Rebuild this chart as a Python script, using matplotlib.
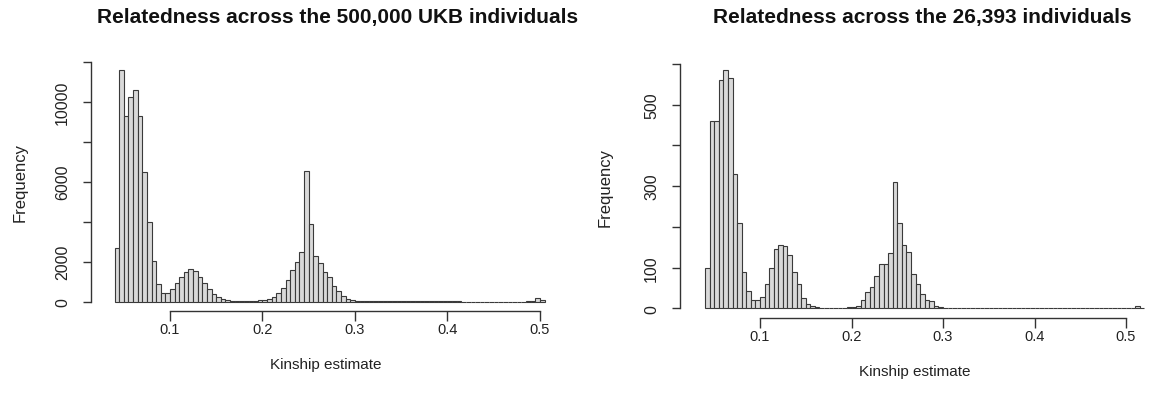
import numpy as np
import matplotlib.pyplot as plt

plt.rcParams['font.family'] = ['Liberation Sans', 'DejaVu Sans']

# bins of width 0.005 starting at 0.04
bin_start = 0.04
bin_width = 0.005

# UKB 500,000 individuals
ukb_counts = [2700, 11600, 9300, 10250, 10600, 9300, 6500, 4000, 2050, 885,
              450, 420, 650, 950, 1250, 1500, 1620, 1550, 1250, 950,
              620, 380, 220, 135, 80, 55, 45, 40, 40, 45,
              50, 75, 110, 160, 250, 450, 700, 1100, 1600, 2000,
              2500, 6550, 3900, 2300, 1935, 1500, 1220, 800, 550, 300,
              150, 90, 60,
              50, 45, 40, 35, 32, 30, 28, 26, 24, 22,
              20, 19, 18, 17, 16, 15, 14, 13, 12, 12,
              11, 11, 10, 10, 10, 9, 9, 9, 8, 8,
              8, 8, 7, 7, 8, 9, 12, 20,
              200, 80]

# 26,393 individuals
sub_counts = [100, 460, 460, 560, 585, 566, 331, 210, 89, 43,
              21, 21, 27, 60, 100, 146, 156, 152, 130, 90,
              60, 26, 11, 5, 3, 2, 1, 1, 1, 1,
              2, 3, 3, 5, 20, 40, 52, 80, 109, 109,
              136, 310, 210, 156, 139, 84, 60, 35, 20, 18,
              5, 3, 2,
              1, 1, 1, 1, 1, 0, 1, 0, 1, 0,
              0, 1, 0, 0, 0, 1, 0, 0, 0, 0,
              0, 0, 0, 1, 0, 0, 0, 0, 0, 0,
              0, 0, 0, 0, 0, 0, 0, 0, 1, 2, 1, 5, 2]

titles = ["Relatedness across the 500,000 UKB individuals",
          "Relatedness across the 26,393 individuals"]
x_ticks = [0.1, 0.2, 0.3, 0.4, 0.5]
ukb_yticks = [0, 2000, 4000, 6000, 8000, 10000, 12000]
ukb_ylabels = ["0", "2000", "", "6000", "", "10000", ""]
sub_yticks = [0, 100, 200, 300, 400, 500, 600]
sub_ylabels = ["0", "100", "", "300", "", "500", ""]

W, H = 1161, 410
fig = plt.figure(figsize=(W / 100, H / 100), dpi=100)

axis_col = '#333333'


def panel(rect_px, xlim, ylim, counts, yticks, ylabels, title, title_x, ylab_x):
    left, top, right, bottom = rect_px
    ax = fig.add_axes([left / W, 1 - bottom / H, (right - left) / W, (bottom - top) / H])
    edges = bin_start + bin_width * np.arange(len(counts))
    ax.bar(edges, counts, width=bin_width, align='edge', color='#d9d9d9',
           edgecolor='#3a3a3a', linewidth=0.8)
    ax.set_xlim(*xlim)
    ax.set_ylim(*ylim)
    for s in ['top', 'right']:
        ax.spines[s].set_visible(False)
    for s in ['left', 'bottom']:
        ax.spines[s].set_color(axis_col)
        ax.spines[s].set_linewidth(1.0)
    ax.spines['bottom'].set_bounds(x_ticks[0], x_ticks[-1])
    ax.spines['left'].set_bounds(yticks[0], yticks[-1])
    ax.set_xticks(x_ticks)
    ax.set_xticklabels([f"{t:.1f}" for t in x_ticks])
    ax.set_yticks(yticks)
    ax.set_yticklabels(ylabels, rotation=90, va='center')
    ax.tick_params(axis='both', colors=axis_col, labelcolor='#222222', width=1.0)
    ax.tick_params(axis='x', length=7, pad=1, labelsize=10.5)
    ax.tick_params(axis='y', length=6, pad=9, labelsize=11.5)
    ax.set_xlabel("Kinship estimate", fontsize=11, color='#222222', labelpad=15)
    ax.set_ylabel("Frequency", fontsize=12, color='#222222')
    # anchor of the y label in pixels (right edge of the rotated text)
    ax.yaxis.set_label_coords((ylab_x - left) / (right - left), 0.5)
    fig.text(title_x / W, 1 - 18 / H, title, ha='center', va='center',
             fontsize=15, fontweight='bold', color='#111111')
    return ax


panel((91, 53.1, 560.6, 312.3), (0.01459, 0.5223), (-480, 12480),
      ukb_counts, ukb_yticks, ukb_ylabels, titles[0], 338, 28)
panel((680, 55.2, 1150, 319.1), (0.01257, 0.5262), (-24, 624),
      sub_counts, sub_yticks, sub_ylabels, titles[1], 922, 613)

fig.savefig("out.png", dpi=100)
